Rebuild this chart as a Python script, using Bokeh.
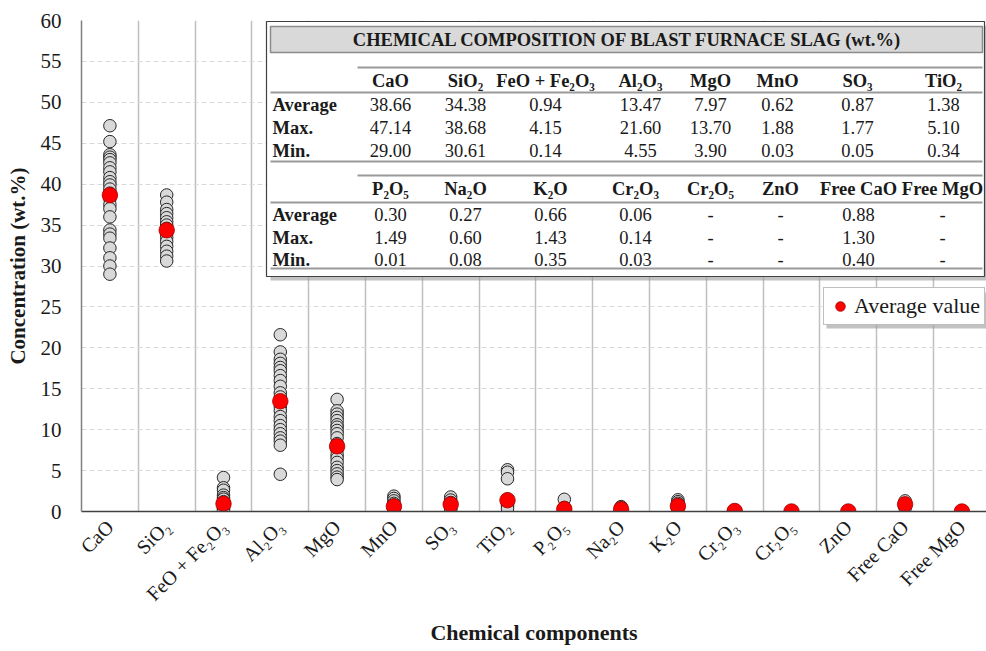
import math
from bokeh.plotting import figure
from bokeh.models import (Range1d, FixedTicker, Legend, LegendItem, ColumnDataSource)
from bokeh.core.properties import value
from bokeh.embed import file_html
from bokeh.resources import INLINE

# ---------------- data ----------------
categories = ["CaO", "SiO₂", "FeO + Fe₂O₃", "Al₂O₃", "MgO", "MnO", "SO₃", "TiO₂",
              "P₂O₅", "Na₂O", "K₂O", "Cr₂O₃", "Cr₂O₅", "ZnO", "Free CaO", "Free MgO"]

cao = [47.14, 45.2, 43.6, 43.3, 43.0, 42.6, 42.0, 41.5, 40.8, 40.3, 39.9, 39.4, 38.9,
       38.2, 37.5, 37.0, 36.0, 34.4, 33.9, 33.4, 32.2, 31.0, 30.0, 29.00]
sio2 = [38.68, 37.8, 36.9, 36.4, 35.9, 35.4, 35.0, 34.6, 34.0, 33.5, 33.0, 32.4, 31.8,
        31.2, 30.61]
feo_fe2o3 = [4.15, 2.9, 2.6, 2.0, 1.7, 1.5, 1.2, 1.0, 0.8, 0.6, 0.4, 0.3, 0.14]
al2o3 = [21.60, 19.5, 18.6, 18.1, 17.6, 17.2, 16.6, 16.0, 15.3, 14.5, 14.0, 13.5, 12.8,
         12.3, 11.6, 11.1, 10.5, 10.0, 9.5, 9.0, 8.6, 8.1, 4.55]
mgo = [13.70, 12.3, 11.9, 11.5, 11.1, 10.6, 10.3, 9.9, 9.5, 9.0, 8.3, 7.5, 6.9, 6.5,
       6.0, 5.4, 5.0, 4.6, 4.2, 3.90]
mno = [1.88, 1.6, 1.3, 1.0, 0.8, 0.6, 0.4, 0.2, 0.03]
so3 = [1.77, 1.4, 1.1, 0.8, 0.5, 0.3, 0.05]
tio2 = [5.10, 4.8, 4.0, 1.5, 1.2, 1.0, 0.8, 0.6, 0.34]
p2o5 = [1.49, 0.5, 0.3, 0.1, 0.01]
na2o = [0.60, 0.45, 0.3, 0.2, 0.08]
k2o = [1.43, 1.2, 1.0, 0.8, 0.6, 0.45, 0.35]
cr2o3 = [0.14, 0.08, 0.05, 0.03]
cr2o5 = []
zno = []
free_cao = [1.30, 0.9, 0.6, 0.40]
free_mgo = []

samples = [cao, sio2, feo_fe2o3, al2o3, mgo, mno, so3, tio2, p2o5, na2o, k2o,
           cr2o3, cr2o5, zno, free_cao, free_mgo]

averages = [38.66, 34.38, 0.94, 13.47, 7.97, 0.62, 0.87, 1.38, 0.30, 0.27, 0.66,
            0.06, 0.0, 0.0, 0.88, 0.0]

y_ticks = [0, 5, 10, 15, 20, 25, 30, 35, 40, 45, 50, 55, 60]

table_title = "CHEMICAL COMPOSITION OF BLAST FURNACE SLAG (wt.%)"
row_labels = ["Average", "Max.", "Min."]
table1_headers = ["CaO", "SiO₂", "FeO + Fe₂O₃", "Al₂O₃", "MgO", "MnO", "SO₃", "TiO₂"]
table1_avg = ["38.66", "34.38", "0.94", "13.47", "7.97", "0.62", "0.87", "1.38"]
table1_max = ["47.14", "38.68", "4.15", "21.60", "13.70", "1.88", "1.77", "5.10"]
table1_min = ["29.00", "30.61", "0.14", "4.55", "3.90", "0.03", "0.05", "0.34"]
table2_headers = ["P₂O₅", "Na₂O", "K₂O", "Cr₂O₃", "Cr₂O₅", "ZnO", "Free CaO", "Free MgO"]
table2_avg = ["0.30", "0.27", "0.66", "0.06", "-", "-", "0.88", "-"]
table2_max = ["1.49", "0.60", "1.43", "0.14", "-", "-", "1.30", "-"]
table2_min = ["0.01", "0.08", "0.35", "0.03", "-", "-", "0.40", "-"]

# ---------------- layout ----------------
W, H = 986, 651
LEFT, TOP, BOTTOM = 81, 20, 140
FRAME_W = W - LEFT
FRAME_H = H - TOP - BOTTOM
CAT_PX = 56.8
X0 = -0.5
X1 = X0 + FRAME_W / CAT_PX
Y0, Y1 = 0, 60

FONT = "Liberation Serif"
TXT = "#1a1a1a"


def px_x(px):
    return X0 + (px - LEFT) / CAT_PX


def px_y(py):
    return Y1 - (py - TOP) * (Y1 - Y0) / FRAME_H


p = figure(width=W, height=H, output_backend="svg", toolbar_location=None,
           x_range=Range1d(X0, X1), y_range=Range1d(Y0, Y1),
           min_border_left=LEFT, min_border_right=0, min_border_top=TOP,
           min_border_bottom=BOTTOM)
p.outline_line_color = None
p.background_fill_color = "white"
p.border_fill_color = "white"

# axes
xa = p.xaxis[0]
xa.ticker = FixedTicker(ticks=list(range(len(categories))))
xa.major_label_overrides = {i: c for i, c in enumerate(categories)}
xa.major_label_orientation = math.pi / 4
xa.major_tick_out = 0
xa.major_tick_in = 0
xa.minor_tick_out = 0
xa.minor_tick_in = 0
xa.axis_line_color = "#404040"
xa.axis_line_width = 1.5
xa.major_label_text_font = FONT
xa.major_label_text_font_size = "20px"
xa.major_label_text_color = TXT
xa.major_label_standoff = 12
xa.axis_label = "Chemical components"
xa.axis_label_text_font = FONT
xa.axis_label_text_font_size = "22px"
xa.axis_label_text_font_style = "bold"
xa.axis_label_text_color = TXT
xa.axis_label_standoff = 4

ya = p.yaxis[0]
ya.ticker = FixedTicker(ticks=y_ticks)
ya.major_tick_out = 0
ya.major_tick_in = 0
ya.minor_tick_out = 0
ya.minor_tick_in = 0
ya.axis_line_color = "#7f7f7f"
ya.axis_line_width = 1.5
ya.major_label_text_font = FONT
ya.major_label_text_font_size = "21px"
ya.major_label_text_color = TXT
ya.major_label_standoff = 20
ya.axis_label = "Concentration (wt.%)"
ya.axis_label_text_font = FONT
ya.axis_label_text_font_size = "21px"
ya.axis_label_text_font_style = "bold"
ya.axis_label_text_color = TXT
ya.axis_label_standoff = 8

# grids
p.xgrid.ticker = FixedTicker(ticks=[i + 0.5 for i in range(len(categories) - 1)])
p.xgrid.grid_line_color = "#bfbfbf"
p.xgrid.grid_line_width = 1.5
p.ygrid.ticker = FixedTicker(ticks=y_ticks[1:-1])
p.ygrid.grid_line_color = "#d9d9d9"
p.ygrid.grid_line_dash = "5 3"
p.ygrid.grid_line_width = 1

# ---------------- points ----------------
sx, sy = [], []
for i, vals in enumerate(samples):
    for v in vals:
        sx.append(i)
        sy.append(v)
p.scatter(sx, sy, size=12.5, fill_color="#d9d9d9", line_color="#262626", line_width=1)
avg_r = p.scatter(list(range(len(categories))), averages, size=15.5,
                  fill_color="#ff0000", line_color="#a00000", line_width=0.8)

# ---------------- table ----------------
T_L, T_R, T_T, T_B = 266, 984, 21, 276
# shadow
p.quad(left=[px_x(T_L + 4)], right=[px_x(T_R + 4)], top=[px_y(T_T + 4)],
       bottom=[px_y(T_B + 4)], fill_color="#9a9a9a", fill_alpha=0.6, line_color=None)
p.quad(left=[px_x(T_L)], right=[px_x(T_R)], top=[px_y(T_T)], bottom=[px_y(T_B)],
       fill_color="white", line_color="#404040", line_width=1.2)
# title bar
p.quad(left=[px_x(270)], right=[px_x(982)], top=[px_y(26)], bottom=[px_y(52)],
       fill_color="#d9d9d9", line_color="#8c8c8c", line_width=1.5)

line_rows = [(67, 357), (92, 270), (161, 270), (175, 357), (202, 270), (268, 270)]
p.segment(x0=[px_x(a) for _, a in line_rows], x1=[px_x(982)] * len(line_rows),
          y0=[px_y(r) for r, _ in line_rows], y1=[px_y(r) for r, _ in line_rows],
          line_color="#9a9a9a", line_width=2)

cols1 = [390, 465, 545, 640, 710, 777, 857, 943]
cols2 = [390, 465, 550, 635, 710, 780, 858, 942]
rows1 = [80, 104, 127, 150]
rows2 = [188, 214, 237, 259]

hx, hy, ht = [], [], []
vx, vy, vt = [], [], []
lx, ly, lt = [], [], []
for cols, rows, heads, a, mx, mn in [(cols1, rows1, table1_headers, table1_avg, table1_max, table1_min),
                                      (cols2, rows2, table2_headers, table2_avg, table2_max, table2_min)]:
    for j, cx in enumerate(cols):
        hx.append(px_x(cx)); hy.append(px_y(rows[0])); ht.append(heads[j])
        for k, arr in enumerate([a, mx, mn]):
            vx.append(px_x(cx)); vy.append(px_y(rows[k + 1])); vt.append(arr[j])
    for k, lab in enumerate(row_labels):
        lx.append(px_x(272)); ly.append(px_y(rows[k + 1])); lt.append(lab)

common = dict(text_font=value(FONT), text_font_size="18.5px", text_color=TXT,
              text_baseline="middle")
p.text(x=hx, y=hy, text=ht, text_align="center", text_font_style="bold", **common)
p.text(x=vx, y=vy, text=vt, text_align="center", **common)
p.text(x=lx, y=ly, text=lt, text_align="left", text_font_style="bold", **common)
p.text(x=[px_x(627)], y=[px_y(39)], text=[table_title], text_align="center",
       text_font_style="bold", **common)

# legend shadow
L_L, L_T, L_B = 823, 289, 325
p.quad(left=[px_x(L_L + 3)], right=[px_x(W + 10)], top=[px_y(L_T + 3)],
       bottom=[px_y(L_B + 3)], fill_color="#9a9a9a", fill_alpha=0.6, line_color=None)

legend = Legend(items=[LegendItem(label="Average value", renderers=[avg_r])],
                location=(L_L - LEFT, TOP + FRAME_H - L_B),
                label_text_font=FONT, label_text_font_size="22px",
                label_text_color=TXT, border_line_color="#7f7f7f",
                border_line_width=1.2, background_fill_color="white",
                background_fill_alpha=1.0, padding=4, margin=0,
                glyph_width=24, glyph_height=28, label_standoff=2,
                label_height=26)
p.add_layout(legend)

open("out.html", "w").write(file_html(p, INLINE))
